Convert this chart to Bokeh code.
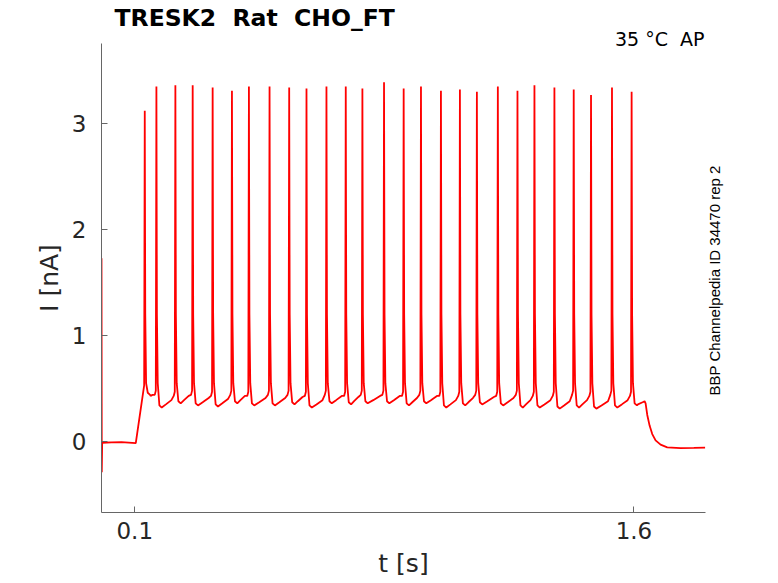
import numpy as np
from bokeh.plotting import figure
from bokeh.models import Range1d, FixedTicker, Title, LinearAxis
from bokeh.embed import file_html
from bokeh.resources import INLINE

# ---- values ----
# spike times (s) and spike peak currents (nA)
spike_t = [0.130, 0.165, 0.222, 0.274, 0.334, 0.392, 0.443, 0.505, 0.564,
           0.616, 0.676, 0.734, 0.784, 0.849, 0.908, 0.960, 1.020, 1.077,
           1.128, 1.191, 1.250, 1.301, 1.361, 1.419, 1.471, 1.534, 1.593]
spike_peak = [3.12, 3.35, 3.36, 3.36, 3.34, 3.31, 3.35, 3.35, 3.34,
              3.33, 3.35, 3.35, 3.33, 3.39, 3.33, 3.35, 3.31, 3.32,
              3.30, 3.35, 3.31, 3.36, 3.34, 3.32, 3.27, 3.34, 3.30]
# minimum current just after each spike (nA)
trough = [0.44, 0.32, 0.36, 0.34, 0.33, 0.36, 0.34, 0.34, 0.35,
          0.32, 0.36, 0.35, 0.36, 0.36, 0.34, 0.36, 0.32, 0.34,
          0.35, 0.34, 0.32, 0.32, 0.31, 0.32, 0.31, 0.32, 0.34]
# current half way between spikes (nA)
mid_lvl = [0.43, 0.35, 0.39, 0.37, 0.36, 0.39, 0.37, 0.37, 0.38,
           0.35, 0.39, 0.38, 0.39, 0.39, 0.37, 0.39, 0.35, 0.37,
           0.38, 0.37, 0.35, 0.35, 0.34, 0.35, 0.34, 0.35]
# current shortly before the next spike (nA)
late_lvl = [0.44, 0.39, 0.43, 0.41, 0.40, 0.43, 0.41, 0.41, 0.42,
            0.39, 0.43, 0.42, 0.43, 0.43, 0.41, 0.43, 0.39, 0.41,
            0.42, 0.41, 0.39, 0.39, 0.38, 0.39, 0.38, 0.39]
# current at the foot of each spike (nA)
foot = [0.53, 0.48, 0.47, 0.48, 0.47, 0.48, 0.47, 0.48, 0.48,
        0.47, 0.48, 0.47, 0.48, 0.48, 0.47, 0.48, 0.47, 0.47,
        0.48, 0.47, 0.48, 0.47, 0.47, 0.48, 0.47, 0.48, 0.47]
# before the step (s, nA)
pre_t = [0.0, 0.0008, 0.002, 0.030, 0.060, 0.103]
pre_i = [1.73, -0.29, -0.012, -0.008, -0.006, -0.015]
# after the last spike (s, nA)
post_t = [1.612, 1.626, 1.632, 1.635, 1.640, 1.647, 1.655, 1.665, 1.680,
          1.700, 1.740, 1.780, 1.814]
post_i = [0.35, 0.37, 0.38, 0.36, 0.25, 0.15, 0.07, 0.01, -0.03,
          -0.055, -0.062, -0.060, -0.058]

NB = "\u00a0"
title_text = "TRESK2 " + NB + "Rat " + NB + "CHO_FT"
cond_text = "35 °C " + NB + "AP"
id_text = "BBP Channelpedia ID 34470 rep 2"
x_ticks = [0.1, 1.6]
y_ticks = [0, 1, 2, 3]

# ---- assemble the polyline from the read values ----
xs = list(pre_t)
ys = list(pre_i)
n = len(spike_t)
for k in range(n):
    t0 = spike_t[k]
    xs += [t0 - 0.0018, t0, t0 + 0.0015, t0 + 0.004, t0 + 0.009, t0 + 0.016]
    ys += [foot[k], spike_peak[k], 1.2, 0.55, trough[k] + 0.02, trough[k]]
    if k + 1 < n:
        t1 = spike_t[k + 1]
        xs += [0.5 * (t0 + t1), t1 - 0.012, t1 - 0.005]
        ys += [mid_lvl[k], late_lvl[k], foot[k + 1] - 0.04]
xs += post_t
ys += post_i

p = figure(width=778, height=583, output_backend="svg", toolbar_location=None,
           title=None,
           x_range=Range1d(0.0, 1.815), y_range=Range1d(-0.67, 3.755),
           min_border_left=101, min_border_right=73,
           min_border_top=43, min_border_bottom=71)
p.outline_line_color = None
p.xgrid.visible = False
p.ygrid.visible = False

p.line(xs, ys, line_color="#ff0000", line_width=1.8)

for ax in (p.xaxis[0], p.yaxis[0]):
    ax.axis_line_color = "#666666"
    ax.major_tick_line_color = "#666666"
    ax.major_tick_in = 6
    ax.major_tick_out = 0
    ax.minor_tick_line_color = None
    ax.major_label_text_font = "DejaVu Sans"
    ax.major_label_text_font_size = "23px"
    ax.major_label_text_color = "#262626"
    ax.axis_label_text_font = "DejaVu Sans"
    ax.axis_label_text_font_size = "25px"
    ax.axis_label_text_font_style = "normal"
    ax.axis_label_text_color = "#262626"

p.xaxis.ticker = FixedTicker(ticks=x_ticks)
p.yaxis.ticker = FixedTicker(ticks=y_ticks)
p.xaxis.major_label_standoff = 9
p.yaxis.major_label_standoff = 15
p.xaxis.axis_label = "t [s]"
p.xaxis.axis_label_standoff = 7
p.yaxis.axis_label = "I [nA]"
p.yaxis.axis_label_standoff = 5

# condition text (closest to frame, reaching into it) then main title
p.add_layout(Title(text=cond_text, align="right", offset=1, standoff=-12,
                   text_font="DejaVu Sans", text_font_size="19px",
                   text_font_style="normal", text_color="black"), "above")
p.add_layout(Title(text=title_text, align="left", offset=13, standoff=-1,
                   text_font="DejaVu Sans", text_font_size="23.5px",
                   text_font_style="bold", text_color="black"), "above")

# vertical id text at the right, via an unlined axis with one labelled tick
id_pos = 0.434
rax = LinearAxis(ticker=FixedTicker(ticks=[id_pos]),
                 major_label_overrides={id_pos: id_text},
                 axis_line_color=None, major_tick_line_color=None,
                 minor_tick_line_color=None,
                 major_label_orientation=np.pi / 2,
                 major_label_standoff=3,
                 major_label_text_font="Liberation Sans",
                 major_label_text_font_size="15px",
                 major_label_text_color="black")
p.add_layout(rax, "right")

open("out.html", "w").write(file_html(p, INLINE))
